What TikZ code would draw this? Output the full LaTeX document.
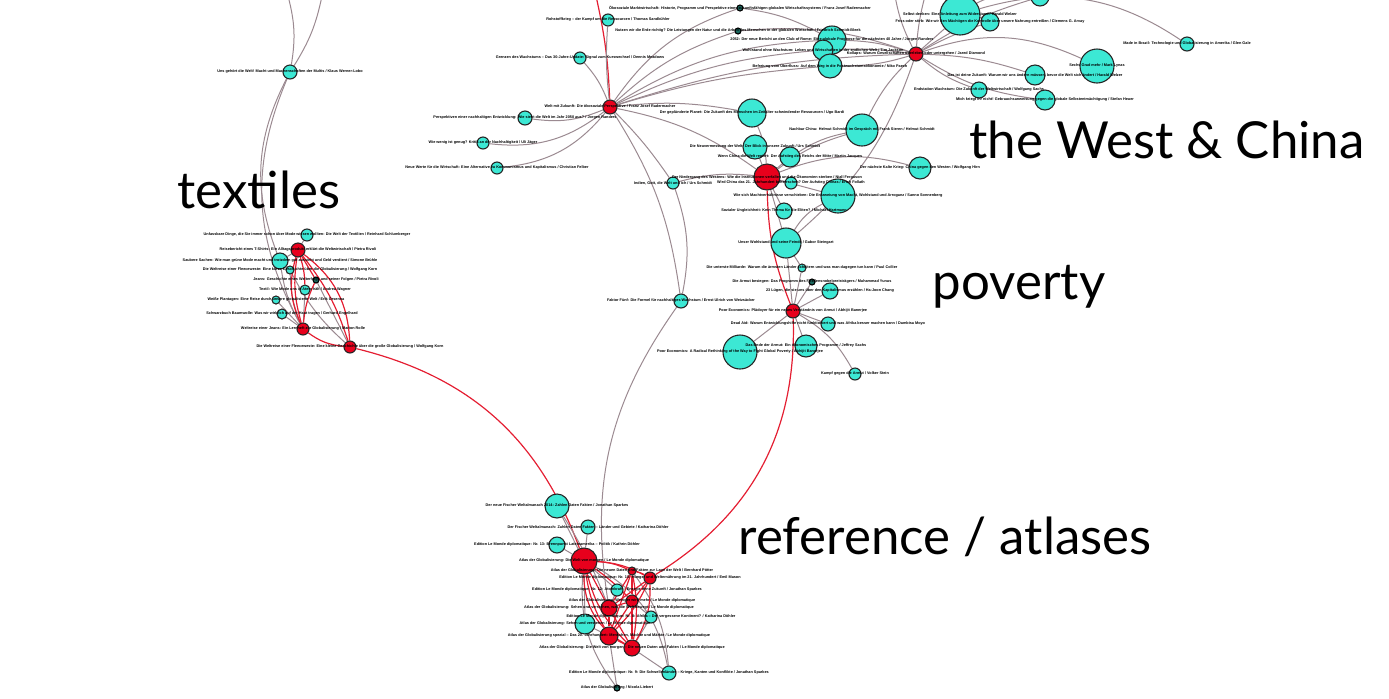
\documentclass[tikz,border=0pt]{standalone}
\usepackage{fontspec}
\setmainfont{Liberation Sans}
\newfontfamily\bigfont{Lato}
\usetikzlibrary{backgrounds}
\pgfdeclarelayer{fg}
\pgfsetlayers{background,main,fg}
\definecolor{cyanN}{RGB}{60,232,212}
\definecolor{redN}{RGB}{232,0,28}
\definecolor{edgeG}{RGB}{155,138,145}
\definecolor{edgeR}{RGB}{228,30,50}
\tikzset{
 cn/.style={circle, fill=cyanN, draw=black!85, line width=0.55pt, inner sep=0pt},
 rn/.style={circle, fill=redN, draw=black!85, line width=0.55pt, inner sep=0pt},
 dn/.style={circle, fill=cyanN!45!black, draw=black, line width=0.55pt, inner sep=0pt},
 lab/.style={font=\bfseries\fontsize{1.9}{2.3}\selectfont, text=black, inner sep=0pt},
 bigl/.style={font=\bigfont\fontsize{25.5}{30}\selectfont, text=black, inner sep=0pt},
 ge/.style={draw=edgeG, line width=0.5pt},
 re/.style={draw=edgeR, line width=0.6pt},
}
\newcommand\bk[5]{\node[#3, minimum size=#4pt] (#1) at (#2) {};
 \begin{pgfonlayer}{fg}\node[lab] (#1l) at (#2) {#5};\end{pgfonlayer}}
\begin{document}
\begin{tikzpicture}[x=0.5pt,y=-0.5pt]
\useasboundingbox (0,0) rectangle (1389,698);
% ---- free ends at the top border
\coordinate (tp1) at (288,-4);
\coordinate (tp2) at (322,-4);
\coordinate (tp3) at (596,-4);
\coordinate (tp4) at (895,-4);
\coordinate (tp5) at (925,-4);
\coordinate (tp6) at (1000,-4);
% ---- top left
\bk{U}{290,72}{cn}{7}{Uns gehört die Welt! Macht und Machenschaften der Multis / Klaus Werner-Lobo}
% ---- textiles
\bk{T1}{307,235}{cn}{6}{Unfassbare Dinge, die Sie immer schon über Mode wissen wollten: Die Welt der Textilien / Reinhard Schlumberger}
\bk{T2}{298,250}{rn}{7}{Reisebericht eines T-Shirts: Ein Alltagsprodukt erklärt die Weltwirtschaft / Pietra Rivoli}
\bk{T3}{280,261}{cn}{8}{Saubere Sachen: Wie man grüne Mode macht und trotzdem gut aussieht und Geld verdient / Simone Brühle}
\bk{T4}{290,270}{cn}{4}{Die Weltreise einer Fleeceweste: Eine kurze Geschichte über die Globalisierung / Wolfgang Korn}
\bk{T5}{316,280}{dn}{3}{Jeans: Geschichte eines Welterfolgs und seiner Folgen / Pietra Rivoli}
\bk{T6}{305,290}{cn}{5}{Textil: Wie Mode uns in Atem hält / Andrea Wagner}
\bk{T7}{276,300}{cn}{4}{Weiße Plantagen: Eine Reise durch unsere globalisierte Welt / Erik Orsenna}
\bk{T8}{282,314}{cn}{5}{Schwarzbuch Baumwolle: Was wir wirklich auf der Haut tragen / Gerhard Engelhard}
\bk{T9}{303,329}{rn}{6}{Weltreise einer Jeans: Ein Lernheft zur Globalisierung / Marion Rolle}
\bk{T10}{350,347}{rn}{6}{Die Weltreise einer Fleeceweste: Eine kleine Geschichte über die große Globalisierung / Wolfgang Korn}
% ---- growth / sustainability (top centre)
\bk{A1}{740,8}{dn}{3}{Ökosoziale Marktwirtschaft: Historie, Programm und Perspektive eines zukunftsfähigen globalen Wirtschaftssystems / Franz Josef Radermacher}
\bk{A2}{608,20}{cn}{6}{Rohstoffkrieg – der Kampf um die Ressourcen / Thomas Sandkühler}
\bk{A3}{738,31}{dn}{3}{Nutzen wir die Erde richtig? Die Leistungen der Natur und die Arbeit des Menschen in der globalen Wirtschaft / Friedrich Schmidt-Bleek}
\bk{A4}{580,58}{cn}{6}{Grenzen des Wachstums – Das 30-Jahre-Update: Signal zum Kurswechsel / Dennis Meadows}
\bk{A5}{610,107}{rn}{7}{Welt mit Zukunft: Die ökosoziale Perspektive / Franz Josef Radermacher}
\bk{A6}{525,118}{cn}{7}{Perspektiven einer nachhaltigen Entwicklung: Wie sieht die Welt im Jahr 2050 aus? / Jorgen Randers}
\bk{A7}{483,143}{cn}{6}{Wie wenig ist genug? Kritik an der Nachhaltigkeit / Uli Jäger}
\bk{A8}{497,168}{cn}{6}{Neue Werte für die Wirtschaft: Eine Alternative zu Kommunismus und Kapitalismus / Christian Felber}
\bk{A9}{673,183}{cn}{6}{Indien, Gott, die Welt und ich / Urs Schmidt}
\bk{A10}{752,113}{cn}{14}{Der geplünderte Planet: Die Zukunft des Menschen im Zeitalter schwindender Ressourcen / Ugo Bardi}
\bk{A11}{832,40}{cn}{14}{2052: Der neue Bericht an den Club of Rome: Eine globale Prognose für die nächsten 40 Jahre / Jorgen Randers}
\bk{A12}{823,50}{cn}{10}{Wohlstand ohne Wachstum: Leben und Wirtschaften in der endlichen Welt / Tim Jackson}
\bk{A13}{830,66}{cn}{12}{Befreiung vom Überfluss: Auf dem Weg in die Postwachstumsökonomie / Niko Paech}
\bk{A14}{916,54}{rn}{7}{Kollaps: Warum Gesellschaften überleben oder untergehen / Jared Diamond}
\bk{A15}{960,15}{cn}{20}{Selbst denken: Eine Anleitung zum Widerstand / Harald Welzer}
\bk{A16}{990,22}{cn}{9}{Friss oder stirb: Wie wir den Mächtigen die Kontrolle über unsere Nahrung entreißen / Clemens G. Arvay}
\bk{A17}{1040,-3}{cn}{9}{}
\bk{A18}{1097,66}{cn}{17}{Sechs Grad mehr / Mark Lynas}
\bk{A19}{1187,44}{cn}{7}{Made in Brazil: Technologie und Globalisierung in Amerika / Glen Gale}
\bk{A20}{1035,75}{cn}{10}{Das ist deine Zukunft: Warum wir uns ändern müssen, bevor die Welt sich ändert / Harald Welzer}
\bk{A21}{979,90}{cn}{8}{Endstation Wachstum: Die Zukunft der Weltwirtschaft / Wolfgang Sachs}
\bk{A22}{1045,100}{cn}{10}{Mich kriegt ihr nicht! Gebrauchsanweisung gegen die globale Selbstentmächtigung / Stefan Heuer}
% ---- West & China
\bk{C0}{767,177}{rn}{13}{Der Niedergang des Westens: Wie die Institutionen verfallen und die Ökonomien sterben / Niall Ferguson}
\bk{C1}{755,147}{cn}{12}{Die Neuvermessung der Welt: Der Blick in unsere Zukunft / Urs Schmidt}
\bk{C2}{790,157}{cn}{10}{Wenn China die Welt regiert: Der Aufstieg des Reichs der Mitte / Martin Jacques}
\bk{C3}{791,183}{cn}{6}{Wird China das 21. Jahrhundert beherrschen? Der Aufstieg Chinas / Erich Follath}
\bk{C4}{862,130}{cn}{16}{Nachbar China: Helmut Schmidt im Gespräch mit Frank Sieren / Helmut Schmidt}
\bk{C5}{920,168}{cn}{11}{Der nächste Kalte Krieg: China gegen den Westen / Wolfgang Hirn}
\bk{C6}{838,196}{cn}{17}{Wie sich Machtverhältnisse verschieben: Die Entzweiung von Macht, Wohlstand und Arroganz / Sanno Sonnenberg}
\bk{C7}{784,211}{cn}{8}{Sozialer Ungleichheit: Kein Thema für die Eliten? / Michael Hartmann}
\bk{C8}{786,243}{cn}{15}{Unser Wohlstand und seine Feinde / Gabor Steingart}
% ---- poverty
\bk{P1}{802,268}{cn}{4}{Die unterste Milliarde: Warum die ärmsten Länder scheitern und was man dagegen tun kann / Paul Collier}
\bk{P2}{812,282}{dn}{3}{Die Armut besiegen: Das Programm des Friedensnobelpreisträgers / Muhammad Yunus}
\bk{P3}{830,291}{cn}{8}{23 Lügen, die sie uns über den Kapitalismus erzählen / Ha-Joon Chang}
\bk{P4}{793,311}{rn}{7}{Poor Economics: Plädoyer für ein neues Verständnis von Armut / Abhijit Banerjee}
\bk{P5}{681,301}{cn}{7}{Faktor Fünf: Die Formel für nachhaltiges Wachstum / Ernst Ulrich von Weizsäcker}
\bk{P6}{828,324}{cn}{7}{Dead Aid: Warum Entwicklungshilfe nicht funktioniert und was Afrika besser machen kann / Dambisa Moyo}
\bk{P7}{740,352}{cn}{17}{Poor Economics: A Radical Rethinking of the Way to Fight Global Poverty / Abhijit Banerjee}
\bk{P8}{806,346}{cn}{11}{Das Ende der Armut: Ein ökonomisches Programm / Jeffrey Sachs}
\bk{P9}{855,374}{cn}{6}{Kampf gegen die Armut / Volker Stein}
% ---- reference / atlases
\bk{R1}{557,506}{cn}{12}{Der neue Fischer Weltalmanach 2014: Zahlen Daten Fakten / Jonathan Sparkes}
\bk{R2}{588,527}{cn}{7}{Der Fischer Weltalmanach: Zahlen Daten Fakten – Länder und Gebiete / Katharina Döhler}
\bk{R3}{557,545}{cn}{8}{Edition Le Monde diplomatique: Nr. 13: Brennpunkt Lateinamerika – Politik / Kathrin Döhler}
\bk{R4}{584,561}{rn}{13}{Atlas der Globalisierung: Die Welt von morgen / Le Monde diplomatique}
\bk{R5}{632,571}{rn}{4}{Atlas der Globalisierung: Die neuen Daten und Fakten zur Lage der Welt / Bernhard Pötter}
\bk{R6}{650,578}{rn}{6}{Edition Le Monde diplomatique: Nr. 10: Hunger und Welternährung im 21. Jahrhundert / Emil Mason}
\bk{R7}{617,590}{cn}{6}{Edition Le Monde diplomatique: Nr. 12: Atomkraft – Energie ohne Zukunft / Jonathan Sparkes}
\bk{R8}{632,601}{rn}{6}{Atlas der Globalisierung: Weniger wird mehr / Le Monde diplomatique}
\bk{R9}{609,608}{rn}{8}{Atlas der Globalisierung: Sehen und verstehen, was die Welt bewegt / Le Monde diplomatique}
\bk{R10}{651,617}{cn}{6}{Edition Le Monde diplomatique: Nr. 8: Afrika – Der vergessene Kontinent? / Katharina Döhler}
\bk{R11}{585,624}{cn}{10}{Atlas der Globalisierung: Sehen und verstehen / Le Monde diplomatique}
\bk{R12}{609,636}{rn}{9}{Atlas der Globalisierung spezial – Das 20. Jahrhundert: Menschen, Mächte und Märkte / Le Monde diplomatique}
\bk{R13}{632,648}{rn}{8}{Atlas der Globalisierung: Die Welt von morgen – Die neuen Daten und Fakten / Le Monde diplomatique}
\bk{R14}{669,673}{cn}{7}{Edition Le Monde diplomatique: Nr. 9: Die Schwellenländer – Kriege, Kanten und Konflikte / Jonathan Sparkes}
\bk{R15}{617,688}{dn}{3}{Atlas der Globalisierung / Nicola Liebert}
% ---- cluster captions
\begin{pgfonlayer}{fg}
\node[bigl] (capT) at (259,190) {textiles};
\node[bigl] (capW) at (1167,140) {the West \& China};
\node[bigl] (capP) at (1019,287) {poverty};
\node[bigl] (capR) at (945,537) {reference / atlases};
\end{pgfonlayer}
% ---- connectors
\begin{scope}[on background layer]
% top left
\draw[ge] (tp1) to[bend left=12] (U);
\draw[ge] (tp2) to[bend left=10] (U);
\draw[ge] (U) to[bend right=24] (T3);
\draw[ge] (U) to[bend right=26] (T9);
% textiles
\draw[ge] (T1) -- (T2);
\draw[ge] (T3) -- (T2);
\draw[ge] (T4) to[bend right=10] (T9);
\draw[ge] (T7) -- (T9);
\draw[ge] (T8) -- (T9);
\draw[ge] (T6) -- (T9);
\draw[ge] (T3) to[bend right=10] (T9);
\draw[ge] (T5) -- (T10);
\draw[ge] (T4) to[bend right=10] (T10);
\draw[re] (T2) to[bend right=12] (T9);
\draw[re] (T2) to[bend left=25] (T10);
\draw[re] (T2) to[bend left=10] (T10);
\draw[re] (T9) to[bend right=15] (T10);
\draw[re] (T2) -- (T5);
\draw[re] (T2) to[bend left=8] (T6);
\draw[re] (T9) to[bend left=10] (T5);
\draw[re] (T9) to[bend left=20] (T2);
\draw[re] (T10) to[bend left=28] (R4);
% growth cluster
\draw[re] (tp3) to[bend left=5] (A5);
\draw[ge] (A5) to[bend left=18] (A1);
\draw[ge] (A5) to[bend left=12] (A3);
\draw[ge] (A5) to[bend left=14] (A11);
\draw[ge] (A5) to[bend left=10] (A12);
\draw[ge] (A5) to[bend left=6] (A13);
\draw[ge] (A5) to[bend left=8] (A14);
\draw[ge] (A5) to[bend left=8] (A10);
\draw[ge] (A5) to[bend right=10] (A4);
\draw[ge] (A5) to[bend left=5] (A2);
\draw[ge] (A5) to[bend left=15] (A6);
\draw[ge] (A5) to[bend left=22] (A7);
\draw[ge] (A5) to[bend left=22] (A8);
\draw[ge] (A5) to[bend left=5] (A9);
\draw[ge] (A5) to[bend left=12] (C0);
\draw[ge] (A5) to[bend left=12] (P5);
\draw[ge] (A9) to[bend left=15] (P5);
\draw[ge] (P5) to[bend right=22] (R9);
\draw[ge] (tp4) to[bend right=8] (A14);
\draw[ge] (tp5) to[bend right=5] (A14);
\draw[ge] (tp6) to[bend right=10] (A15);
\draw[ge] (A14) -- (A15);
\draw[ge] (A14) to[bend left=5] (A16);
\draw[ge] (A14) to[bend left=8] (A17);
\draw[ge] (A14) to[bend left=22] (A18);
\draw[ge] (A15) to[bend left=25] (A19);
\draw[ge] (A14) to[bend left=8] (A20);
\draw[ge] (A14) to[bend right=10] (A21);
\draw[ge] (A14) to[bend right=12] (A22);
\draw[ge] (A14) to[bend right=8] (A11);
\draw[ge] (A14) to[bend right=5] (A12);
\draw[ge] (A14) to[bend left=8] (A13);
\draw[ge] (A14) to[bend right=12] (A3);
\draw[ge] (A14) to[bend left=15] (C8);
\draw[ge] (A14) to[bend right=10] (C4);
\draw[ge] (A11) to[bend right=10] (A1);
% West & China
\draw[ge] (C0) -- (C1);
\draw[ge] (C0) -- (C2);
\draw[ge] (C0) -- (C3);
\draw[ge] (C0) to[bend left=10] (C4);
\draw[ge] (C0) to[bend left=18] (C5);
\draw[ge] (C0) -- (C6);
\draw[ge] (C0) -- (C7);
\draw[ge] (C0) -- (C8);
\draw[ge] (C0) to[bend right=10] (A10);
\draw[ge] (C0) to[bend right=10] (A9);
\draw[ge] (C2) to[bend left=10] (C4);
\draw[ge] (C8) to[bend left=15] (C6);
\draw[re] (C0) to[bend right=10] (P4);
% poverty
\draw[ge] (C8) -- (P4);
\draw[ge] (C8) -- (P1);
\draw[ge] (P4) -- (P1);
\draw[ge] (P4) -- (P2);
\draw[ge] (P4) -- (P3);
\draw[ge] (P4) -- (P6);
\draw[ge] (P4) -- (P7);
\draw[ge] (P4) -- (P8);
\draw[ge] (P4) to[bend left=15] (P9);
\draw[re] (P4) to[bend left=30] (R6);
% atlases
\draw[ge] (R1) -- (R4);
\draw[ge] (R2) -- (R4);
\draw[ge] (R3) -- (R4);
\draw[ge] (R7) -- (R4);
\draw[ge] (R7) -- (R9);
\draw[ge] (R10) -- (R8);
\draw[ge] (R10) -- (R13);
\draw[ge] (R11) -- (R12);
\draw[ge] (R11) -- (R4);
\draw[ge] (R14) -- (R13);
\draw[ge] (R14) to[bend right=25] (R4);
\draw[ge] (R14) to[bend right=15] (R5);
\draw[ge] (R15) -- (R12);
\draw[ge] (R15) to[bend left=20] (R4);
\draw[ge] (R1) to[bend left=5] (R9);
\draw[re] (R4) to[bend left=10] (R5);
\draw[re] (R4) to[bend left=12] (R6);
\draw[re] (R4) to[bend left=5] (R8);
\draw[re] (R4) -- (R9);
\draw[re] (R4) to[bend right=10] (R12);
\draw[re] (R4) to[bend right=15] (R13);
\draw[re] (R4) to[bend right=30] (R13);
\draw[re] (R5) -- (R8);
\draw[re] (R5) -- (R9);
\draw[re] (R5) to[bend left=10] (R13);
\draw[re] (R6) -- (R8);
\draw[re] (R6) -- (R9);
\draw[re] (R6) to[bend left=10] (R12);
\draw[re] (R6) to[bend left=15] (R13);
\draw[re] (R8) -- (R9);
\draw[re] (R8) -- (R12);
\draw[re] (R8) -- (R13);
\draw[re] (R9) -- (R12);
\draw[re] (R9) -- (R13);
\draw[re] (R12) -- (R13);
\draw[re] (R5) -- (R12);
\draw[re] (R6) to[bend right=10] (R5);
\end{scope}
\end{tikzpicture}
\end{document}
